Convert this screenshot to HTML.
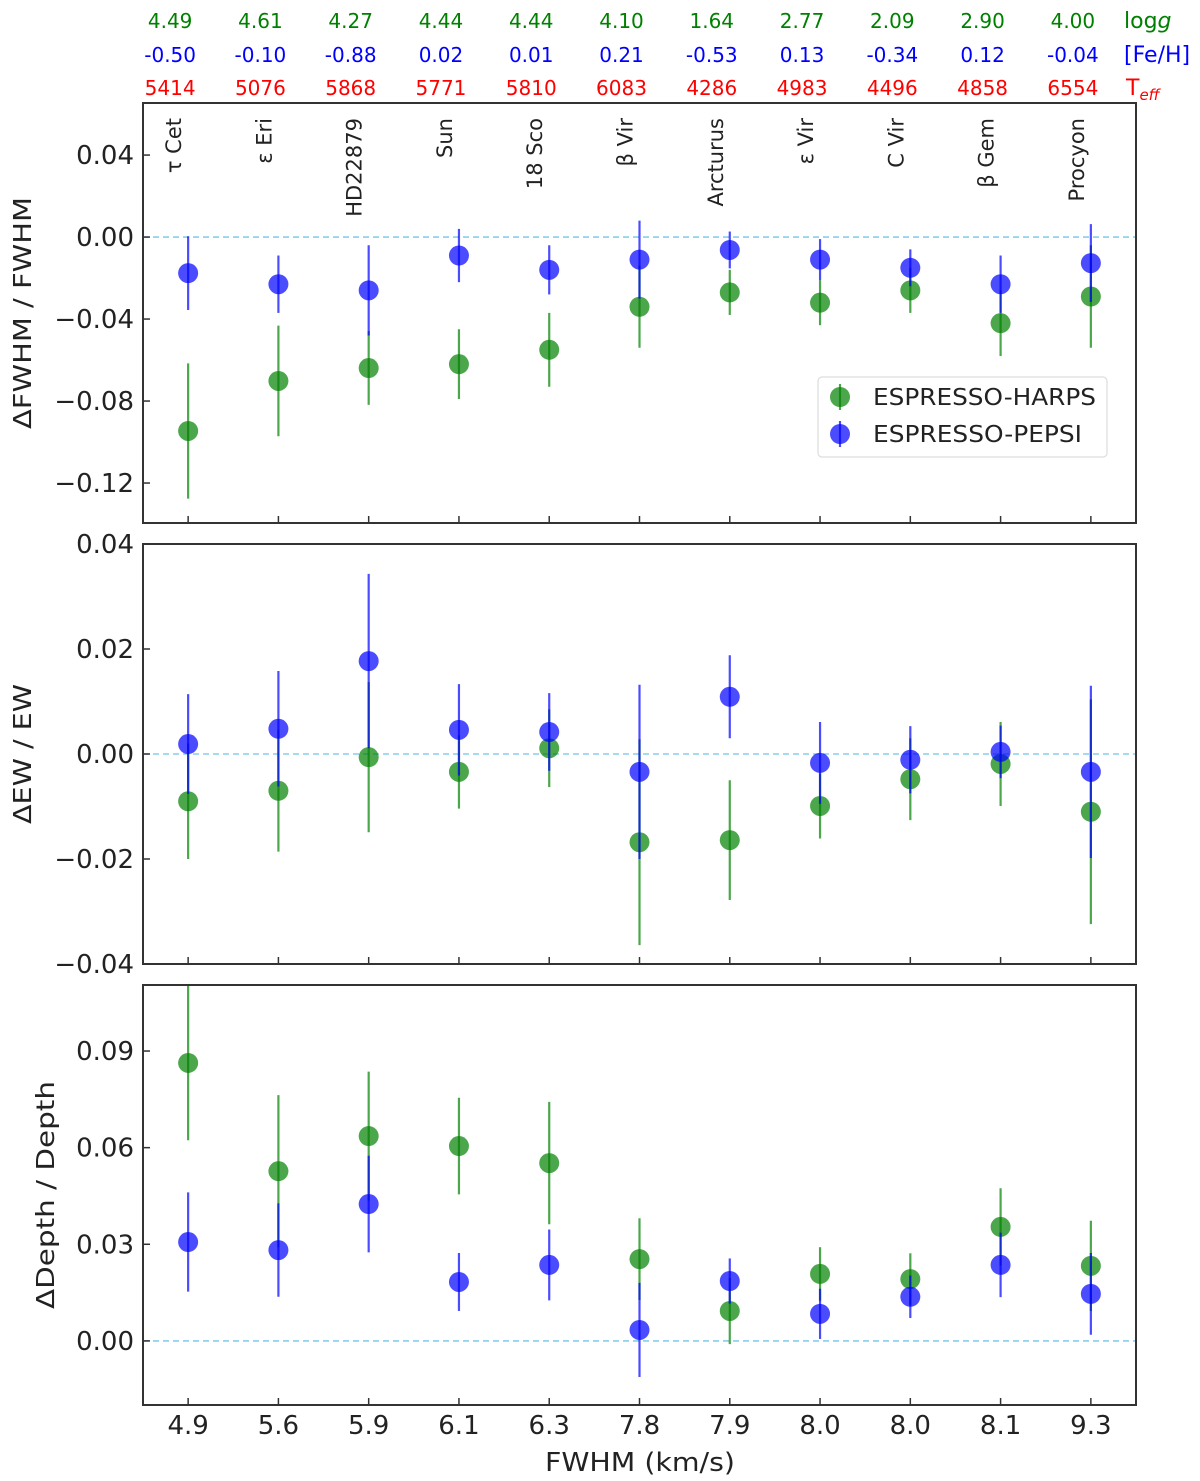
<!DOCTYPE html>
<html><head><meta charset="utf-8"><style>
body{margin:0;background:#fff}
svg{display:block;font-family:"DejaVu Sans","Liberation Sans",sans-serif}
</style></head><body>
<svg id="chart" width="1200" height="1481" viewBox="0 0 1200 1481" xmlns="http://www.w3.org/2000/svg"></svg>
<script>
const stars=["τ Cet","ε Eri","HD22879","Sun","18 Sco","β Vir","Arcturus","ε Vir","C Vir","β Gem","Procyon"];
const fwhmLabels=["4.9","5.6","5.9","6.1","6.3","7.8","7.9","8.0","8.0","8.1","9.3"];
const logg=["4.49","4.61","4.27","4.44","4.44","4.10","1.64","2.77","2.09","2.90","4.00"];
const feh=["-0.50","-0.10","-0.88","0.02","0.01","0.21","-0.53","0.13","-0.34","0.12","-0.04"];
const teff=["5414","5076","5868","5771","5810","6083","4286","4983","4496","4858","6554"];
const fwhmHarps=[-0.0946,-0.0702,-0.0639,-0.062,-0.055,-0.034,-0.027,-0.032,-0.026,-0.042,-0.029];
const fwhmHarpsErr=[0.033,0.027,0.018,0.017,0.018,0.02,0.011,0.011,0.011,0.016,0.025];
const fwhmPepsi=[-0.0176,-0.023,-0.026,-0.009,-0.016,-0.011,-0.0063,-0.011,-0.015,-0.023,-0.0127];
const fwhmPepsiErr=[0.018,0.014,0.022,0.013,0.012,0.019,0.009,0.010,0.009,0.014,0.019];
const ewHarps=[-0.009,-0.007,-0.0006,-0.0034,0.0011,-0.0168,-0.0164,-0.0099,-0.0048,-0.0019,-0.011];
const ewHarpsErr=[0.011,0.0116,0.0143,0.007,0.0074,0.0196,0.0114,0.0062,0.0078,0.008,0.0214];
const ewPepsi=[0.0019,0.0048,0.0177,0.0046,0.0042,-0.0034,0.0109,-0.0017,-0.0011,0.0004,-0.0034];
const ewPepsiErr=[0.0095,0.011,0.0166,0.0087,0.0074,0.0166,0.0079,0.0078,0.0064,0.005,0.0164];
const depthHarps=[0.0863,0.0527,0.0636,0.0605,0.0552,0.0254,0.0093,0.0208,0.0192,0.0354,0.0233];
const depthHarpsErr=[0.024,0.0236,0.02,0.015,0.019,0.0127,0.0103,0.0083,0.008,0.012,0.014];
const depthPepsi=[0.0307,0.0282,0.0425,0.0183,0.0236,0.0034,0.0186,0.0084,0.0137,0.0236,0.0146];
const depthPepsiErr=[0.0154,0.0145,0.015,0.009,0.011,0.0146,0.007,0.0078,0.0066,0.010,0.0127];
const fwhmTicks=[0.04,0.00,-0.04,-0.08,-0.12];
const ewTicks=[0.04,0.02,0.00,-0.02,-0.04];
const depthTicks=[0.09,0.06,0.03,0.00];

const svg=document.getElementById('chart');
const NS='http://www.w3.org/2000/svg';
function mk(tag,attrs,parent){const e=document.createElementNS(NS,tag);for(const k in attrs)e.setAttribute(k,attrs[k]);(parent||svg).appendChild(e);return e;}
const L=143,R=1136;
const xs=i=>L+(i+0.5)*(R-L)/stars.length;
const G='rgba(0,128,0,0.7)',B='rgba(0,0,255,0.7)';

const panels=[
 {top:103,bot:523,min:-0.1395,max:0.0654,ticks:fwhmTicks,fmt:v=>v.toFixed(2),h:fwhmHarps,he:fwhmHarpsErr,p:fwhmPepsi,pe:fwhmPepsiErr,name:'fwhm-panel',ylab:'ΔFWHM / FWHM',ylx:31,yll:232},
 {top:544,bot:964,min:-0.04,max:0.04,ticks:ewTicks,fmt:v=>v.toFixed(2),h:ewHarps,he:ewHarpsErr,p:ewPepsi,pe:ewPepsiErr,name:'ew-panel',ylab:'ΔEW / EW',ylx:31,yll:140},
 {top:985,bot:1405,min:-0.0199,max:0.1105,ticks:depthTicks,fmt:v=>v.toFixed(2),h:depthHarps,he:depthHarpsErr,p:depthPepsi,pe:depthPepsiErr,name:'depth-panel',ylab:'ΔDepth / Depth',ylx:54,yll:228}
];
panels.forEach((P,pi)=>{
 const g=mk('g',{});
 
 
 const ys=v=>P.bot-(v-P.min)/(P.max-P.min)*(P.bot-P.top);
 const cid='clip'+pi;
 const cp=mk('clipPath',{id:cid},g);mk('rect',{x:L,y:P.top,width:R-L,height:P.bot-P.top},cp);
 const zl=mk('line',{x1:L,x2:R,y1:ys(0),y2:ys(0),stroke:'#87ceeb','stroke-width':1.6,'stroke-dasharray':'6,4'},g);
 
 
 P.ticks.forEach(t=>{
  const y=ys(t);
  mk('line',{x1:L,x2:L+7,y1:y,y2:y,stroke:'#333','stroke-width':1.5},g);
  const tx=mk('text',{x:134,y:y+9,'text-anchor':'end','font-size':26,fill:'#222'},g);
  tx.textContent=P.fmt(t).replace('-','−');
  
  
 });
 stars.forEach((s,i)=>{mk('line',{x1:xs(i),x2:xs(i),y1:P.bot,y2:P.bot-7,stroke:'#333','stroke-width':1.5},g);});
 const data=mk('g',{'clip-path':'url(#'+cid+')'},g);
 [[P.h,P.he,G,'harps'],[P.p,P.pe,B,'pepsi']].forEach(([v,e,c,nm])=>{
  v.forEach((val,i)=>{
   const eb=mk('line',{x1:xs(i),x2:xs(i),y1:ys(val-e[i]),y2:ys(val+e[i]),stroke:c,'stroke-width':2.2},data);
   
   
   const pt=mk('circle',{cx:xs(i),cy:ys(val),r:10,fill:c},data);
   
   
  });
 });
 const fr=mk('rect',{x:L,y:P.top,width:R-L,height:P.bot-P.top,fill:'none',stroke:'#333','stroke-width':2},g);
 
 
 const cy=(P.top+P.bot)/2;
 const yl=mk('text',{x:P.ylx,y:cy,'text-anchor':'middle','font-size':25,fill:'#222',textLength:P.yll,lengthAdjust:'spacingAndGlyphs',transform:`rotate(-90 ${P.ylx} ${cy})`},g);
 yl.textContent=P.ylab;
 
 
});
// star names
stars.forEach((s,i)=>{
 const x=xs(i)-7,y=118;
 const t=mk('text',{x:x,y:y,'text-anchor':'end','font-size':21,fill:'#222',transform:`rotate(-90 ${x} ${y})`});
 t.textContent=s;
 
 
});
// top rows
[[logg,28,'#008000','logg-value'],[feh,62,'#0000ff','feh-value'],[teff,95,'#ff0000','teff-value']].forEach(([arr,y,c,nm])=>{
 arr.forEach((v,i)=>{
  const t=mk('text',{x:xs(i)-18,y:y,'text-anchor':'middle','font-size':20,fill:c});
  t.textContent=v;
  
  
 });
});
let t=mk('text',{x:1124,y:28,'font-size':22,fill:'#008000'});t.innerHTML='log<tspan font-style="italic">g</tspan>';


t=mk('text',{x:1124,y:62,'font-size':22,fill:'#0000ff'});t.textContent='[Fe/H]';


t=mk('text',{x:1126,y:95,'font-size':22,fill:'#ff0000'});t.innerHTML='T<tspan font-size="15" dy="5" font-style="italic">eff</tspan>';


// x tick labels
fwhmLabels.forEach((v,i)=>{
 const tx=mk('text',{x:xs(i),y:1434,'text-anchor':'middle','font-size':26,fill:'#222'});
 tx.textContent=v;
 
 
});
t=mk('text',{x:640,y:1471,'text-anchor':'middle','font-size':26,fill:'#222',textLength:190,lengthAdjust:'spacingAndGlyphs'});t.textContent='FWHM (km/s)';


// legend
const lg=mk('g',{});


mk('rect',{x:818,y:377,width:289,height:80,rx:4,fill:'#fff',stroke:'#ddd','stroke-width':1.2},lg);
[[G,'ESPRESSO-HARPS',397,223],[B,'ESPRESSO-PEPSI',434,209]].forEach(([c,lab,y,w])=>{
 const e=mk('g',{},lg);
 
 
 mk('line',{x1:840,x2:840,y1:y-13,y2:y+13,stroke:c,'stroke-width':2.2},e);
 mk('circle',{cx:840,cy:y,r:10,fill:c},e);
 const tt=mk('text',{x:873,y:y+8,'font-size':23,fill:'#222',textLength:w,lengthAdjust:'spacingAndGlyphs'},e);tt.textContent=lab;
});
</script>
</body></html>
